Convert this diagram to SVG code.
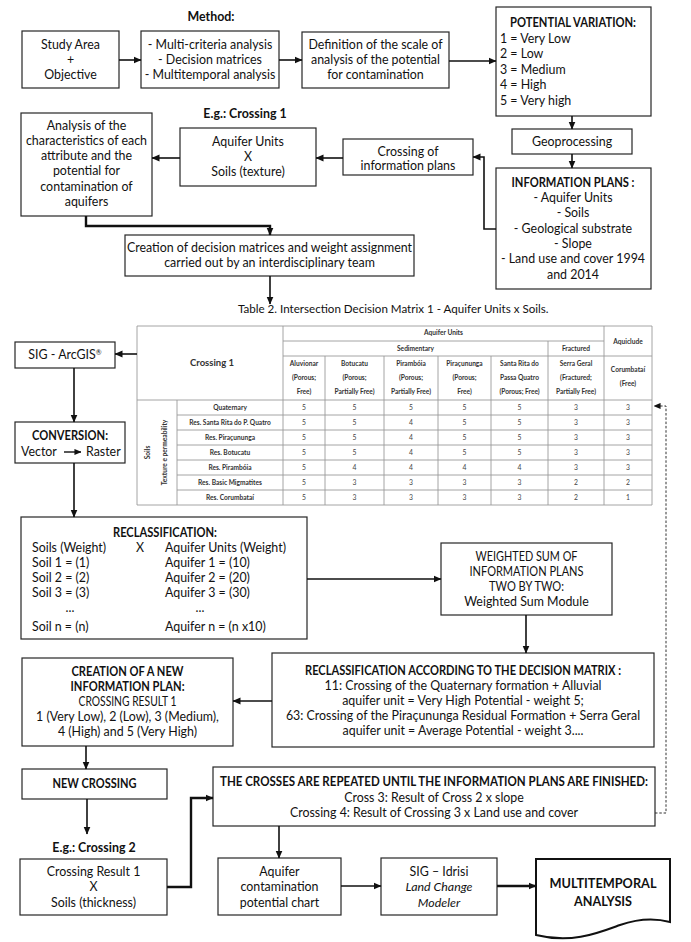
<svg xmlns="http://www.w3.org/2000/svg" width="691" height="942" viewBox="0 0 691 942">
<defs>
<marker id="ah" viewBox="0 0 8 8" refX="7.5" refY="4" markerWidth="8" markerHeight="8" markerUnits="userSpaceOnUse" orient="auto"><path d="M0,0.5 L8,4 L0,7.5 z" fill="#111"/></marker>
<marker id="ahs" viewBox="0 0 8 8" refX="7.5" refY="4" markerWidth="7" markerHeight="7" markerUnits="userSpaceOnUse" orient="auto"><path d="M0,0.5 L8,4 L0,7.5 z" fill="#111"/></marker>
</defs>
<style>
.box{fill:#fff;stroke:#262626;stroke-width:1.2}
.t{font-family:Lato,"Open Sans","Liberation Sans",sans-serif;font-size:12.4px;fill:#111;text-anchor:middle}
.b{font-weight:bold}
.s{text-anchor:start}
.i{font-style:italic}
.c{fill:none;stroke:#111;stroke-width:1.6;marker-end:url(#ah)}
.ck{fill:none;stroke:#111;stroke-width:2.4;marker-end:url(#ah)}
.d{fill:none;stroke:#333;stroke-width:1;stroke-dasharray:2.5,1.8;marker-end:url(#ahs)}
.tl{fill:none;stroke:#9a9a9a;stroke-width:0.9}
.tt{font-family:Lato,"Open Sans","Liberation Sans",sans-serif;font-size:6.6px;fill:#333;text-anchor:middle;font-weight:bold}
.tv{font-family:Lato,"Open Sans","Liberation Sans",sans-serif;font-size:6.8px;fill:#444;text-anchor:middle}
</style>
<rect width="691" height="942" fill="#fff"/>

<text class="t b" x="211" y="21">Method:</text>

<g id="study">
<rect class="box" x="22" y="31" width="97" height="57"/>
<text class="t" x="70.5" y="49">Study Area</text>
<text class="t" x="70.5" y="64">+</text>
<text class="t" x="70.5" y="79">Objective</text>
</g>
<g id="methods">
<rect class="box" x="141" y="31" width="138" height="57"/>
<text class="t" x="210" y="49">- Multi-criteria analysis</text>
<text class="t" x="210" y="64">- Decision matrices</text>
<text class="t" x="210" y="79">- Multitemporal analysis</text>
</g>
<g id="definition">
<rect class="box" x="302" y="32" width="147" height="56"/>
<text class="t" x="375.5" y="49">Definition of the scale of</text>
<text class="t" x="375.5" y="64">analysis of the potential</text>
<text class="t" x="375.5" y="79">for contamination</text>
</g>
<g id="potential">
<rect class="box" x="496" y="7" width="155" height="109"/>
<text class="t b" x="573" y="27" textLength="126" lengthAdjust="spacingAndGlyphs">POTENTIAL VARIATION:</text>
<text class="t s" x="500" y="43">1 = Very Low</text>
<text class="t s" x="500" y="58">2 = Low</text>
<text class="t s" x="500" y="74">3 = Medium</text>
<text class="t s" x="500" y="89">4 = High</text>
<text class="t s" x="500" y="105">5 = Very high</text>
</g>
<g id="geoprocessing">
<rect class="box" x="512" y="129" width="120" height="25"/>
<text class="t" x="572" y="146">Geoprocessing</text>
</g>
<g id="infoplans">
<rect class="box" x="496" y="168" width="155" height="121"/>
<text class="t b" x="573" y="187" textLength="123" lengthAdjust="spacingAndGlyphs">INFORMATION PLANS :</text>
<text class="t" x="573" y="202">- Aquifer Units</text>
<text class="t" x="573" y="217">- Soils</text>
<text class="t" x="573" y="233">- Geological substrate</text>
<text class="t" x="573" y="248">- Slope</text>
<text class="t" x="573" y="263">- Land use and cover 1994</text>
<text class="t" x="573" y="279">and 2014</text>
</g>
<g id="crossingplans">
<rect class="box" x="343" y="139" width="130" height="36"/>
<text class="t" x="408" y="156">Crossing of</text>
<text class="t" x="408" y="170">information plans</text>
</g>
<text class="t b" x="245" y="118">E.g.: Crossing 1</text>
<g id="aquifersoils">
<rect class="box" x="180" y="128" width="136" height="58"/>
<text class="t" x="248" y="146">Aquifer Units</text>
<text class="t" x="248" y="161">X</text>
<text class="t" x="248" y="176">Soils (texture)</text>
</g>
<g id="analysis">
<rect class="box" x="21" y="113" width="131" height="103"/>
<text class="t" x="86.5" y="130">Analysis of the</text>
<text class="t" x="86.5" y="145">characteristics of each</text>
<text class="t" x="86.5" y="160">attribute and the</text>
<text class="t" x="86.5" y="175">potential for</text>
<text class="t" x="86.5" y="191">contamination of</text>
<text class="t" x="86.5" y="206">aquifers</text>
</g>
<g id="creation">
<rect class="box" x="125" y="235" width="289" height="41"/>
<text class="t" x="269.5" y="252">Creation of decision matrices and weight assignment</text>
<text class="t" x="269.5" y="267">carried out by an interdisciplinary team</text>
</g>
<text class="t s" x="238" y="313" style="font-size:11.6px">Table 2. Intersection Decision Matrix 1 - Aquifer Units x Soils.</text>

<g id="table">
<path class="tl" d="M137,326H652M283,341H604M283,356H652M137,400H652M177,415H652M177,430H652M177,445H652M177,460H652M177,475H652M177,490H652M137,505H652M137,326V505M283,326V505M604,326V505M652,326V505M548,341V505M325,356V505M384,356V505M438,356V505M491,356V505M177,400V505"/>
<text class="tt" x="212" y="366" style="font-size:9.5px">Crossing 1</text>
<text class="tt" x="443.5" y="335">Aquifer Units</text>
<text class="tt" x="415.5" y="350.5">Sedimentary</text>
<text class="tt" x="576" y="350.5">Fractured</text>
<text class="tt" x="628" y="343.5">Aquiclude</text>
<text class="tt" x="304" y="365.5">Aluvionar</text><text class="tt" x="304" y="379.5">(Porous;</text><text class="tt" x="304" y="393.5">Free)</text>
<text class="tt" x="354.5" y="365.5">Botucatu</text><text class="tt" x="354.5" y="379.5">(Porous;</text><text class="tt" x="354.5" y="393.5">Partially Free)</text>
<text class="tt" x="411" y="365.5">Pirambóia</text><text class="tt" x="411" y="379.5">(Porous;</text><text class="tt" x="411" y="393.5">Partially Free)</text>
<text class="tt" x="464.5" y="365.5">Piraçununga</text><text class="tt" x="464.5" y="379.5">(Porous;</text><text class="tt" x="464.5" y="393.5">Free)</text>
<text class="tt" x="519.5" y="365.5">Santa Rita do</text><text class="tt" x="519.5" y="379.5">Passa Quatro</text><text class="tt" x="519.5" y="393.5">(Porous; Free)</text>
<text class="tt" x="576" y="365.5">Serra Geral</text><text class="tt" x="576" y="379.5">(Fractured;</text><text class="tt" x="576" y="393.5">Partially Free)</text>
<text class="tt" x="628" y="371.5">Corumbataí</text><text class="tt" x="628" y="385.5">(Free)</text>
<text class="tt" transform="translate(149.5,452.5) rotate(-90)">Soils</text>
<text class="tt" transform="translate(166.5,452.5) rotate(-90)">Texture e permeability</text>
<text class="tt" x="230" y="410">Quaternary</text>
<text class="tt" x="230" y="425">Res. Santa Rita do P. Quatro</text>
<text class="tt" x="230" y="440">Res. Piraçununga</text>
<text class="tt" x="230" y="455">Res. Botucatu</text>
<text class="tt" x="230" y="470">Res. Pirambóia</text>
<text class="tt" x="230" y="485">Res. Basic Migmatites</text>
<text class="tt" x="230" y="500">Res. Corumbataí</text>
<g class="tv">
<text x="304" y="410">5</text><text x="354.5" y="410">5</text><text x="411" y="410">5</text><text x="464.5" y="410">5</text><text x="519.5" y="410">5</text><text x="576" y="410">3</text><text x="628" y="410">3</text>
<text x="304" y="425">5</text><text x="354.5" y="425">5</text><text x="411" y="425">4</text><text x="464.5" y="425">5</text><text x="519.5" y="425">5</text><text x="576" y="425">3</text><text x="628" y="425">3</text>
<text x="304" y="440">5</text><text x="354.5" y="440">5</text><text x="411" y="440">4</text><text x="464.5" y="440">5</text><text x="519.5" y="440">5</text><text x="576" y="440">3</text><text x="628" y="440">3</text>
<text x="304" y="455">5</text><text x="354.5" y="455">5</text><text x="411" y="455">4</text><text x="464.5" y="455">5</text><text x="519.5" y="455">5</text><text x="576" y="455">3</text><text x="628" y="455">3</text>
<text x="304" y="470">5</text><text x="354.5" y="470">4</text><text x="411" y="470">4</text><text x="464.5" y="470">4</text><text x="519.5" y="470">4</text><text x="576" y="470">3</text><text x="628" y="470">3</text>
<text x="304" y="485">5</text><text x="354.5" y="485">3</text><text x="411" y="485">3</text><text x="464.5" y="485">3</text><text x="519.5" y="485">3</text><text x="576" y="485">2</text><text x="628" y="485">2</text>
<text x="304" y="500">5</text><text x="354.5" y="500">3</text><text x="411" y="500">3</text><text x="464.5" y="500">3</text><text x="519.5" y="500">3</text><text x="576" y="500">2</text><text x="628" y="500">1</text>
</g>
</g>

<g id="sig">
<rect class="box" x="15" y="342" width="100" height="26"/>
<text class="t" x="65" y="359">SIG - ArcGIS<tspan style="font-size:7px" dy="-4">®</tspan></text>
</g>
<g id="conversion">
<rect class="box" x="15" y="422" width="110" height="41"/>
<text class="t b" x="70" y="440" textLength="76" lengthAdjust="spacingAndGlyphs">CONVERSION:</text>
<text class="t s" x="21" y="456">Vector</text>
<line x1="64" y1="452" x2="81" y2="452" stroke="#111" stroke-width="1.4" marker-end="url(#ahs)"/>
<text class="t s" x="86" y="456">Raster</text>
</g>
<g id="reclass">
<rect class="box" x="21" y="517" width="286" height="122"/>
<text class="t b" x="165" y="537" textLength="104" lengthAdjust="spacingAndGlyphs">RECLASSIFICATION:</text>
<text class="t s" x="32" y="552">Soils (Weight)</text>
<text class="t" x="140" y="552">X</text>
<text class="t s" x="165" y="552">Aquifer Units (Weight)</text>
<text class="t s" x="32" y="567">Soil 1 = (1)</text>
<text class="t s" x="165" y="567">Aquifer 1 = (10)</text>
<text class="t s" x="32" y="582">Soil 2 = (2)</text>
<text class="t s" x="165" y="582">Aquifer 2 = (20)</text>
<text class="t s" x="32" y="597">Soil 3 = (3)</text>
<text class="t s" x="165" y="597">Aquifer 3 = (30)</text>
<text class="t" x="70" y="612">...</text>
<text class="t" x="200" y="612">...</text>
<text class="t s" x="32" y="631">Soil n = (n)</text>
<text class="t s" x="165" y="631">Aquifer n = (n x10)</text>
</g>
<g id="weighted">
<rect class="box" x="441" y="543" width="171" height="72"/>
<text class="t" x="526.5" y="561" textLength="102" lengthAdjust="spacingAndGlyphs">WEIGHTED SUM OF</text>
<text class="t" x="526.5" y="576" textLength="114" lengthAdjust="spacingAndGlyphs">INFORMATION PLANS</text>
<text class="t" x="526.5" y="591" textLength="75" lengthAdjust="spacingAndGlyphs">TWO BY TWO:</text>
<text class="t" x="526.5" y="606">Weighted Sum Module</text>
</g>
<g id="reclassmatrix">
<rect class="box" x="272" y="653" width="382" height="94"/>
<text class="t b" x="463" y="675" textLength="316" lengthAdjust="spacingAndGlyphs">RECLASSIFICATION ACCORDING TO THE DECISION MATRIX :</text>
<text class="t" x="463" y="690">11: Crossing of the Quaternary formation + Alluvial</text>
<text class="t" x="463" y="705">aquifer unit = Very High Potential - weight 5;</text>
<text class="t" x="463" y="720">63: Crossing of the Piraçununga Residual Formation + Serra Geral</text>
<text class="t" x="463" y="735">aquifer unit = Average Potential - weight 3....</text>
</g>
<g id="newplan">
<rect class="box" x="22" y="658" width="211" height="88"/>
<text class="t b" x="127.5" y="676" textLength="112" lengthAdjust="spacingAndGlyphs">CREATION OF A NEW</text>
<text class="t b" x="127.5" y="691" textLength="114" lengthAdjust="spacingAndGlyphs">INFORMATION PLAN:</text>
<text class="t" x="127.5" y="706" textLength="98" lengthAdjust="spacingAndGlyphs">CROSSING RESULT 1</text>
<text class="t" x="127.5" y="721">1 (Very Low), 2 (Low), 3 (Medium),</text>
<text class="t" x="127.5" y="736">4 (High) and 5 (Very High)</text>
</g>
<g id="newcrossing">
<rect class="box" x="22" y="769" width="145" height="30"/>
<text class="t b" x="94.5" y="788" textLength="84" lengthAdjust="spacingAndGlyphs">NEW CROSSING</text>
</g>
<g id="repeated">
<rect class="box" x="213" y="767" width="442" height="59"/>
<text class="t b" x="434" y="786" textLength="428" lengthAdjust="spacingAndGlyphs">THE CROSSES ARE REPEATED UNTIL THE INFORMATION PLANS ARE FINISHED:</text>
<text class="t" x="434" y="802">Cross 3: Result of Cross 2 x slope</text>
<text class="t" x="434" y="817">Crossing 4: Result of Crossing 3 x Land use and cover</text>
</g>
<text class="t b" x="94" y="852">E.g.: Crossing 2</text>
<g id="crossing2">
<rect class="box" x="20" y="859" width="147" height="56"/>
<text class="t" x="93.5" y="876">Crossing Result 1</text>
<text class="t" x="93.5" y="891">X</text>
<text class="t" x="93.5" y="907">Soils (thickness)</text>
</g>
<g id="chart">
<rect class="box" x="218" y="858" width="123" height="57"/>
<text class="t" x="279.5" y="876">Aquifer</text>
<text class="t" x="279.5" y="891">contamination</text>
<text class="t" x="279.5" y="907">potential chart</text>
</g>
<g id="idrisi">
<rect class="box" x="381" y="858" width="116" height="57"/>
<text class="t" x="439" y="876">SIG – Idrisi</text>
<text class="t i" x="439" y="891">Land Change</text>
<text class="t i" x="439" y="907">Modeler</text>
</g>
<g id="multitemporal">
<path d="M536,859 H670 V922 C655,918 640,918 620,925 C598,933 572,944 536,935 Z" fill="#fff" stroke="#111" stroke-width="2"/>
<text class="t b" x="603" y="888" style="font-size:13.5px" textLength="107" lengthAdjust="spacingAndGlyphs">MULTITEMPORAL</text>
<text class="t b" x="603" y="906" style="font-size:13.5px" textLength="58" lengthAdjust="spacingAndGlyphs">ANALYSIS</text>
</g>

<g id="connectors">
<path class="c" d="M119,60H141"/>
<path class="c" d="M279,60H302"/>
<path class="c" d="M449,61H496"/>
<path class="c" d="M572,116V129"/>
<path class="c" d="M572,154V168"/>
<path class="c" d="M496,229H484V157H473"/>
<path class="c" d="M343,158H316"/>
<path class="c" d="M180,158H152"/>
<path class="ck" d="M86,216V226H270V235"/>
<path class="c" d="M270,276V304"/>
<path class="c" d="M137,354H115"/>
<path class="c" d="M74,368V422"/>
<path class="c" d="M74,463V517"/>
<path class="c" d="M307,579H441"/>
<path class="c" d="M526,615V653"/>
<path class="c" d="M272,701H233"/>
<path class="c" d="M86,746V769"/>
<path class="c" d="M87,799V834"/>
<path class="ck" d="M167,887H191V798H213"/>
<path class="c" d="M279,826V858"/>
<path class="c" d="M341,886H381"/>
<path class="ck" d="M497,886H536"/>
<path class="d" d="M655,813H666V406H654"/>
</g>
</svg>
